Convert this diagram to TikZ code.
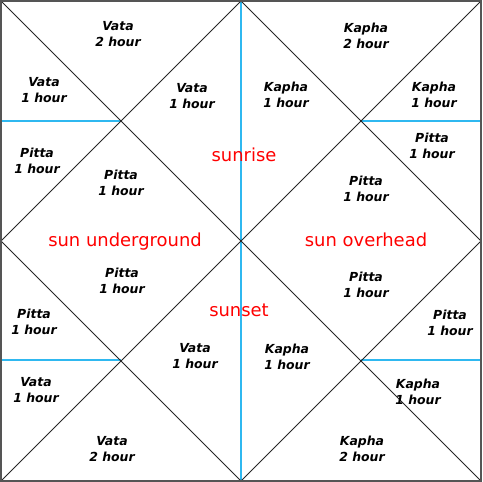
\documentclass[tikz,border=0pt]{standalone}
\usepackage{fontspec}
\setmainfont{DejaVu Sans}
\usepackage{tikz}
\usetikzlibrary{calc}

\definecolor{skyline}{HTML}{2FB8F0}
\definecolor{framegray}{HTML}{555555}

\tikzset{
    dosha/.style={font=\fontsize{12.5}{16}\selectfont\bfseries\itshape, align=center, text=black, inner sep=0pt},
    phase/.style={font=\fontsize{18}{20}\selectfont, text=red, inner sep=0pt},
    sky/.style={skyline, line width=1.2bp},
    grid/.style={black!85, line width=0.9bp}
}

\begin{document}
\begin{tikzpicture}[x=1bp, y=-1bp]
    \useasboundingbox (0,0) rectangle (483,482);

    % Ecken und Mitten
    \coordinate (TL) at (1,1);
    \coordinate (TR) at (481,1);
    \coordinate (BR) at (481,481);
    \coordinate (BL) at (1,481);
    \coordinate (T) at (241,1);
    \coordinate (R) at (481,241);
    \coordinate (B) at (241,481);
    \coordinate (L) at (1,241);
    % Enden der hellblauen Linien
    \coordinate (LT) at (1,121);
    \coordinate (LTe) at (121,121);
    \coordinate (RTs) at (361,121);
    \coordinate (RT) at (481,121);
    \coordinate (LB) at (1,360);
    \coordinate (LBe) at (121,360);
    \coordinate (RBs) at (361,360);
    \coordinate (RB) at (481,360);

    \draw[sky] (T) -- (B);
    \draw[sky] (LT) -- (LTe);
    \draw[sky] (RTs) -- (RT);
    \draw[sky] (LB) -- (LBe);
    \draw[sky] (RBs) -- (RB);

    % Diagonalen und Raute
    \draw[grid] (TL) -- (BR);
    \draw[grid] (TR) -- (BL);
    \draw[grid] (T) -- (R) -- (B) -- (L) -- cycle;

    % Rahmen
    \draw[framegray, line width=2bp] (TL) rectangle (BR);

    % obere Haelfte
    \node[dosha] (v2top) at (118,34) {Vata\\2 hour};
    \node[dosha] (v1lt) at (44,90) {Vata\\1 hour};
    \node[dosha] (v1ct) at (192,96) {Vata\\1 hour};
    \node[dosha] (k1ct) at (286,95) {Kapha\\1 hour};
    \node[dosha] (k2top) at (366,36) {Kapha\\2 hour};
    \node[dosha] (k1rt) at (434,95) {Kapha\\1 hour};
    \node[dosha] (p1lt) at (37,161) {Pitta\\1 hour};
    \node[dosha] (p1clt) at (121,183) {Pitta\\1 hour};
    \node[dosha] (p1rt) at (432,146) {Pitta\\1 hour};
    \node[dosha] (p1crt) at (366,189) {Pitta\\1 hour};

    % untere Haelfte
    \node[dosha] (p1clb) at (122,281) {Pitta\\1 hour};
    \node[dosha] (p1crb) at (366,285) {Pitta\\1 hour};
    \node[dosha] (p1lb) at (34,322) {Pitta\\1 hour};
    \node[dosha] (p1rb) at (450,323) {Pitta\\1 hour};
    \node[dosha] (v1lb) at (36,390) {Vata\\1 hour};
    \node[dosha] (v1cb) at (195,356) {Vata\\1 hour};
    \node[dosha] (k1cb) at (287,357) {Kapha\\1 hour};
    \node[dosha] (k1rb) at (418,392) {Kapha\\1 hour};
    \node[dosha] (v2bot) at (112,449) {Vata\\2 hour};
    \node[dosha] (k2bot) at (362,449) {Kapha\\2 hour};

    % Sonnenstand
    \node[phase] (rise) at (244,155) {sunrise};
    \node[phase] (under) at (125,242) {sun underground};
    \node[phase] (over) at (366,240) {sun overhead};
    \node[phase] (set) at (239,310) {sunset};
\end{tikzpicture}
\end{document}
